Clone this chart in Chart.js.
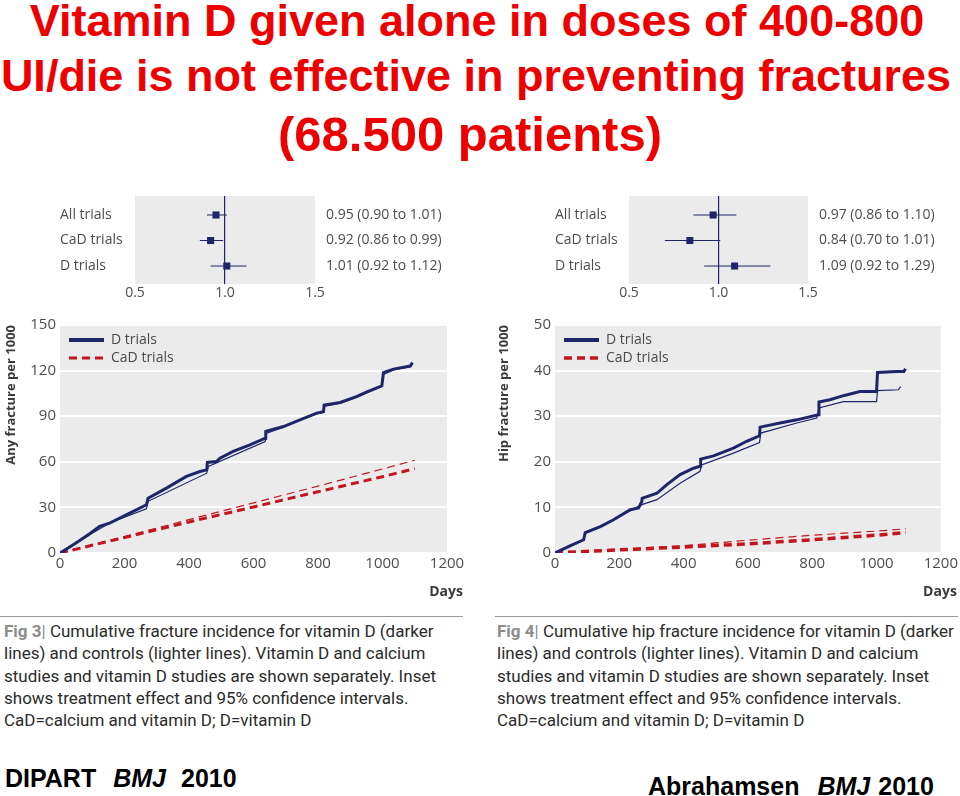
<!DOCTYPE html>
<html><head><meta charset="utf-8">
<script src="https://cdn.jsdelivr.net/npm/chart.js@4.4.0/dist/chart.umd.min.js"></script>
<style>
html,body{margin:0;padding:0;background:#fff;}
body{width:960px;height:796px;position:relative;overflow:hidden;font-family:"Open Sans",sans-serif;}
.t{position:absolute;left:0;text-align:center;font-family:"Liberation Sans",Arial,sans-serif;font-weight:bold;line-height:1;color:#ee0000;white-space:nowrap;}
canvas{position:absolute;display:block;}
.rule{position:absolute;height:0;border-top:1.5px solid #9a9a9a;}
.cap{position:absolute;font-family:Roboto,sans-serif;font-size:17px;line-height:22.3px;color:#2b2b2b;white-space:nowrap;}
.cap b{color:#8c8c8c;font-weight:bold;}
.cap i{font-style:normal;color:#8c8c8c;}
.src{position:absolute;font-family:"Liberation Sans",Arial,sans-serif;font-weight:bold;font-size:25px;line-height:30px;color:#000;white-space:nowrap;}
.src em{font-style:italic;}
</style>
</head><body>
<div class="t" style="top:-2px;width:954px;font-size:45px">Vitamin D given alone in doses of 400-800</div>
<div class="t" style="top:53px;width:952px;font-size:45px">UI/die is not effective in preventing fractures</div>
<div class="t" style="top:110px;width:940px;font-size:49px">(68.500 patients)</div>

<canvas id="f3" width="400" height="115" style="left:60px;top:190px;width:400px;height:115px"></canvas>
<canvas id="f4" width="405" height="115" style="left:555px;top:190px;width:405px;height:115px"></canvas>
<canvas id="c3" width="480" height="295" style="left:0px;top:315px;width:480px;height:295px"></canvas>
<canvas id="c4" width="467" height="295" style="left:493px;top:315px;width:467px;height:295px"></canvas>

<div class="rule" style="left:0;top:616px;width:463px"></div>
<div class="rule" style="left:495px;top:616px;width:463px"></div>
<div class="cap" style="left:4px;top:620px"><b>Fig 3</b><i>|</i> Cumulative fracture incidence for vitamin D (darker<br>lines) and controls (lighter lines). Vitamin D and calcium<br>studies and vitamin D studies are shown separately. Inset<br>shows treatment effect and 95% confidence intervals.<br>CaD=calcium and vitamin D; D=vitamin D</div>
<div class="cap" style="left:497px;top:620px"><b>Fig 4</b><i>|</i> Cumulative hip fracture incidence for vitamin D (darker<br>lines) and controls (lighter lines). Vitamin D and calcium<br>studies and vitamin D studies are shown separately. Inset<br>shows treatment effect and 95% confidence intervals.<br>CaD=calcium and vitamin D; D=vitamin D</div>

<div class="src" style="left:5px;top:763px">DIPART<em style="margin-left:17px">BMJ</em><span style="margin-left:15px">2010</span></div>
<div class="src" style="left:648px;top:771px">Abrahamsen<em style="margin-left:18px">BMJ</em><span style="margin-left:8px">2010</span></div>

<script>
// ---------- DATA ----------
const forestRows = ['All trials', 'CaD trials', 'D trials'];
// Fig 3 inset (any fracture)
const f3Est = [0.95, 0.92, 1.01];
const f3Lo  = [0.90, 0.86, 0.92];
const f3Hi  = [1.01, 0.99, 1.12];
// Fig 4 inset (hip fracture)
const f4Est = [0.97, 0.84, 1.09];
const f4Lo  = [0.86, 0.70, 0.92];
const f4Hi  = [1.10, 1.01, 1.29];
const forestTicks = [0.5, 1.0, 1.5];

// Fig 3: any fracture per 1000
const anyDTreatDays = [0, 30, 60, 92, 123, 154, 190, 227, 268, 273, 330, 392, 434, 455, 457, 485, 496, 537, 589, 636, 638, 693, 744, 796, 817, 819, 869, 921, 952, 998, 1003, 1034, 1086, 1093];
const anyDTreatVals = [0, 4, 8, 12.7, 17.5, 19.7, 23.5, 27.4, 31.7, 36, 42.7, 50.4, 53.6, 54.7, 59.6, 60.2, 62.4, 66.8, 71.2, 75.5, 80, 83.2, 87.6, 92, 93, 97.4, 99, 103, 106, 110, 118.7, 121, 123, 125.2];
const anyDCtrlDays  = [0, 92, 154, 268, 273, 455, 460, 636, 641, 693, 744, 796, 817, 819, 869, 921, 952, 998, 1003, 1034, 1086, 1093];
const anyDCtrlVals  = [0, 12, 19.7, 29, 34, 52.5, 57, 73.3, 78.8, 82.8, 87.5, 91.5, 92.5, 96.5, 98.5, 102.5, 105.5, 109.5, 117.5, 120.5, 122.6, 124.5];
const anyCaDTreatDays = [0, 200, 400, 600, 800, 1000, 1100];
const anyCaDTreatVals = [0, 10.2, 20.4, 30.3, 40.3, 50.2, 55.5];
const anyCaDCtrlDays  = [0, 200, 400, 600, 800, 1000, 1100];
const anyCaDCtrlVals  = [0, 10.8, 22, 33, 44, 55.3, 61];

// Fig 4: hip fracture per 1000
const hipDTreatDays = [0, 45, 89, 94, 141, 182, 234, 260, 270, 271, 317, 348, 389, 431, 451, 453, 493, 555, 596, 636, 638, 700, 752, 819, 821, 855, 897, 948, 1000, 1003, 1062, 1085, 1090];
const hipDTreatVals = [0, 1.5, 2.9, 4.5, 5.8, 7.3, 9.5, 9.9, 11.3, 12, 13.1, 15, 17.2, 18.6, 19, 20.6, 21.3, 23, 24.5, 25.7, 27.6, 28.5, 29.2, 30.3, 33.1, 33.6, 34.5, 35.4, 35.4, 39.6, 39.8, 39.8, 40.4];
const hipDCtrlDays  = [0, 45, 89, 94, 141, 182, 234, 270, 317, 389, 451, 456, 555, 636, 640, 752, 814, 821, 897, 1000, 1003, 1068, 1075];
const hipDCtrlVals  = [0, 1.5, 2.9, 4.3, 5.7, 7.2, 9.3, 10.6, 11.7, 15.3, 17.9, 19.3, 21.9, 24.2, 26.3, 28.5, 29.6, 31.8, 33.2, 33.2, 35.6, 35.8, 36.5];
const hipCaDTreatDays = [0, 200, 400, 600, 800, 1000, 1091];
const hipCaDTreatVals = [0, 0.7, 1.3, 2.0, 2.9, 3.9, 4.5];
const hipCaDCtrlDays  = [0, 200, 400, 600, 800, 1000, 1091];
const hipCaDCtrlVals  = [0, 0.8, 1.6, 2.8, 3.9, 4.8, 5.3];

// ---------- STYLE ----------
const NAVY = '#1f2569';
const RED = '#c3151d';
const BG = '#ebebeb';
const TICK = '#4d4d4d';

const plotBg = {
  id: 'plotBg',
  beforeDraw(chart, args, opts) {
    const {ctx, chartArea: a} = chart;
    ctx.save();
    ctx.fillStyle = opts.color || BG;
    ctx.fillRect(a.left, a.top, a.right - a.left, a.bottom - a.top);
    ctx.restore();
  }
};
const innerLegend = {
  id: 'innerLegend',
  afterDatasetsDraw(chart, args, opts) {
    if (!opts.items) return;
    const {ctx, chartArea: a} = chart;
    ctx.save();
    opts.items.forEach((idx, row) => {
      const ds = chart.data.datasets[idx];
      const y = a.top + opts.top + row * opts.gap;
      ctx.beginPath();
      ctx.strokeStyle = ds.borderColor;
      ctx.lineWidth = opts.widths ? opts.widths[row] : ds.borderWidth;
      ctx.setLineDash(ds.borderDash || []);
      ctx.moveTo(a.left + opts.x1, y);
      ctx.lineTo(a.left + opts.x2, y);
      ctx.stroke();
      ctx.setLineDash([]);
      ctx.fillStyle = '#4a4a4a';
      ctx.font = '14px "Open Sans"';
      ctx.textAlign = 'left';
      ctx.textBaseline = 'middle';
      ctx.fillText(ds.label, a.left + opts.textX, y);
    });
    ctx.restore();
  }
};
const cornerTitle = {
  id: 'cornerTitle',
  afterDraw(chart, args, opts) {
    if (!opts.text) return;
    const {ctx, chartArea: a} = chart;
    ctx.save();
    ctx.font = 'bold 14px "Open Sans"';
    ctx.fillStyle = '#3a3a3a';
    ctx.textAlign = 'right';
    ctx.textBaseline = 'middle';
    ctx.fillText(opts.text, a.right + opts.dx, a.bottom + opts.dy);
    ctx.restore();
  }
};

function pts(days, vals) { return days.map((d, i) => ({x: d, y: vals[i]})); }
function ciText(e, l, h) { return e.map((v, i) => v.toFixed(2) + ' (' + l[i].toFixed(2) + ' to ' + h[i].toFixed(2) + ')'); }
function noPad(s) { s.paddingTop = 0; s.paddingBottom = 0; }

function forest(id, est, lo, hi, yW, y2W) {
  const right = ciText(est, lo, hi);
  const rowTicks = s => { s.ticks = forestRows.map((_, i) => ({value: i})); };
  const datasets = [
    {data: est.map((v, i) => ({x: v, y: i})), pointStyle: 'rect', pointRadius: 5, backgroundColor: NAVY, borderColor: NAVY, borderWidth: 0, showLine: false}
  ].concat(forestRows.map((r, i) => ({
    data: [{x: lo[i], y: i}, {x: hi[i], y: i}], showLine: true, pointRadius: 0, borderColor: NAVY, borderWidth: 1
  })));
  const yBase = {type: 'linear', min: -0.745, max: 2.705, reverse: true, afterBuildTicks: rowTicks, grid: {display: false, drawTicks: false}, border: {display: false}};
  new Chart(document.getElementById(id), {
    type: 'scatter',
    data: {datasets},
    options: {
      responsive: false, animation: false, events: [],
      layout: {padding: {top: 6, left: 0, right: 0, bottom: 0}},
      plugins: {legend: {display: false}, tooltip: {enabled: false}, plotBg: {color: BG}},
      scales: {
        x: {type: 'linear', min: 0.5, max: 1.5,
            afterBuildTicks: s => { s.ticks = forestTicks.map(v => ({value: v})); },
            ticks: {callback: v => Number(v).toFixed(1), color: TICK, font: {family: 'Open Sans', size: 14}, padding: 1, maxRotation: 0},
            grid: {color: c => (c.tick && c.tick.value === 1) ? NAVY : 'rgba(0,0,0,0)', lineWidth: 1.2, drawTicks: false},
            border: {display: false},
            afterFit: s => { s.height = 21; s.paddingLeft = 0; s.paddingRight = 0; }},
        y: Object.assign({}, yBase, {position: 'left',
            ticks: {callback: v => forestRows[v], crossAlign: 'far', color: TICK, font: {family: 'Open Sans', size: 14}},
            afterFit: s => { s.width = yW; noPad(s); }}),
        y2: Object.assign({}, yBase, {position: 'right',
            ticks: {callback: v => right[v], crossAlign: 'near', padding: 11, color: TICK, font: {family: 'Open Sans', size: 14}},
            afterFit: s => { s.width = y2W; noPad(s); }})
      }
    },
    plugins: [plotBg]
  });
}

function curves(id, series, yMax, yStep, yTitle, yW, padRight, thick) {
  new Chart(document.getElementById(id), {
    type: 'line',
    data: {datasets: [
      {label: 'D trials', data: series[0], borderColor: NAVY, borderWidth: 3, pointRadius: 0, tension: 0},
      {label: 'D trials (control)', data: series[1], borderColor: NAVY, borderWidth: 1.2, pointRadius: 0, tension: 0},
      {label: 'CaD trials', data: series[2], borderColor: RED, borderWidth: thick, borderDash: [8, 5], pointRadius: 0, tension: 0},
      {label: 'CaD trials (control)', data: series[3], borderColor: RED, borderWidth: 1.2, borderDash: [8, 5], pointRadius: 0, tension: 0}
    ]},
    options: {
      responsive: false, animation: false, events: [],
      layout: {padding: {top: 10, right: padRight, left: 0, bottom: 0}},
      plugins: {
        legend: {display: false}, tooltip: {enabled: false},
        plotBg: {color: BG},
        innerLegend: {items: [0, 2], top: 15, gap: 18, x1: 9, x2: 44, textX: 51, widths: [4, thick]},
        cornerTitle: {text: 'Days', dx: 16, dy: 39}
      },
      scales: {
        x: {type: 'linear', min: 0, max: 1200,
            ticks: {stepSize: 200, callback: v => String(v), color: TICK, font: {family: 'Open Sans', size: 15}, padding: 2, maxRotation: 0},
            grid: {display: false, drawTicks: false}, border: {display: false},
            afterFit: s => { s.height = 57; }},
        y: {min: 0, max: yMax,
            ticks: {stepSize: yStep, callback: v => String(v), color: TICK, font: {family: 'Open Sans', size: 15}, padding: 4},
            grid: {color: '#ffffff', lineWidth: 2, drawTicks: false}, border: {display: false},
            title: {display: true, text: yTitle, align: 'end', color: '#3a3a3a', font: {family: 'Open Sans', size: 13, weight: 'bold'}, padding: {top: 3, bottom: 0}},
            afterFit: s => { s.width = yW; noPad(s); }}
      }
    },
    plugins: [plotBg, innerLegend, cornerTitle]
  });
}

forest('f3', f3Est, f3Lo, f3Hi, 75, 145);
forest('f4', f4Est, f4Lo, f4Hi, 74, 152);
curves('c3', [pts(anyDTreatDays, anyDTreatVals), pts(anyDCtrlDays, anyDCtrlVals), pts(anyCaDTreatDays, anyCaDTreatVals), pts(anyCaDCtrlDays, anyCaDCtrlVals)], 150, 30, 'Any fracture per 1000', 60, 33, 3);
curves('c4', [pts(hipDTreatDays, hipDTreatVals), pts(hipDCtrlDays, hipDCtrlVals), pts(hipCaDTreatDays, hipCaDTreatVals), pts(hipCaDCtrlDays, hipCaDCtrlVals)], 50, 10, 'Hip fracture per 1000', 62, 19, 3.5);
</script>
</body></html>
